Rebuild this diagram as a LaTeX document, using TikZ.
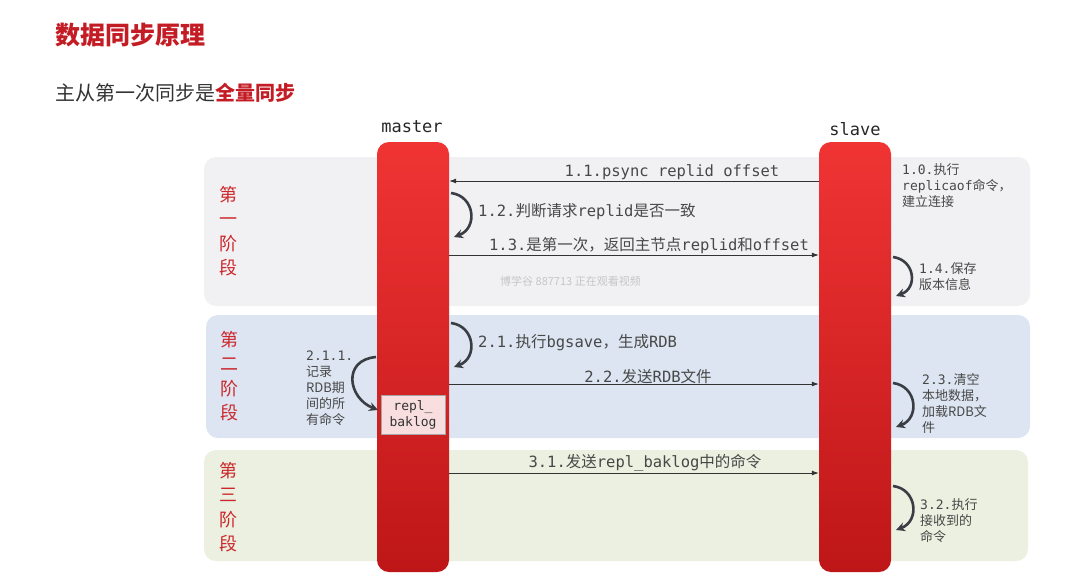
\documentclass[tikz,border=0pt]{standalone}
\usepackage{fontspec}
\setmainfont{Noto Sans CJK SC}
\setmonofont{DejaVu Sans Mono}
\usepackage{xcolor}
\usepackage{tikz}
\usetikzlibrary{arrows.meta}

\definecolor{titlered}{RGB}{196,28,36}
\definecolor{phasered}{RGB}{204,40,44}
\definecolor{bartop}{RGB}{240,52,52}
\definecolor{barbot}{RGB}{190,22,24}
\definecolor{phaseone}{RGB}{241,241,243}
\definecolor{phasetwo}{RGB}{220,229,241}
\definecolor{phasethree}{RGB}{235,240,224}
\definecolor{labelgray}{RGB}{72,72,72}
\definecolor{loopgray}{RGB}{58,62,68}
\definecolor{bakpink}{RGB}{248,222,222}

\newcommand{\mn}[1]{{\ttfamily #1}}

\begin{document}
\begin{tikzpicture}[x=1pt,y=-1pt,
  bar/.style={rounded corners=12pt,top color=bartop,bottom color=barbot,
    minimum width=72pt,minimum height=430pt,inner sep=0pt},
  msg/.style={-{Latex[length=7pt,width=5pt]},line width=0.8pt,draw=black!80},
  selfloop/.style={-{Stealth[length=9pt,width=9pt]},line width=2.6pt,draw=loopgray},
  lbl/.style={text=labelgray,inner sep=0pt,font=\fontsize{15.5}{18}\selectfont},
  note/.style={text=labelgray,inner sep=0pt,align=left,font=\fontsize{13}{16}\selectfont},
  phase/.style={text=phasered,inner sep=0pt,align=center,font=\fontsize{18}{24.5}\selectfont}]
\useasboundingbox (0,0) rectangle (1083,576);

% titles
\node[anchor=west,inner sep=0pt,text=titlered,font=\fontsize{25}{30}\selectfont\bfseries] (title) at (55,35) {数据同步原理};
\node[anchor=west,inner sep=0pt,text=black!80,font=\fontsize{20}{24}\selectfont] (subtitle) at (55,93) {主从第一次同步是\textcolor{titlered}{\bfseries 全量同步}};

% phases
\fill[phaseone,rounded corners=12pt] (204,157) rectangle (1030,306);
\fill[phasetwo,rounded corners=12pt] (206,315) rectangle (1030,438);
\fill[phasethree,rounded corners=12pt] (204,450) rectangle (1028,561);
\node[phase] (ph1) at (228,231) {第\\一\\阶\\段};
\node[phase] (ph2) at (229,376) {第\\二\\阶\\段};
\node[phase] (ph3) at (228,507) {第\\三\\阶\\段};

% master / slave
\node[text=black!85,font=\ttfamily\fontsize{17}{20}\selectfont] (mlabel) at (412,127) {master};
\node[text=black!85,font=\ttfamily\fontsize{17}{20}\selectfont] (slabel) at (855,129) {slave};
\node[bar] (master) at (413,357) {};
\node[bar] (slave) at (855,357) {};
\node[fill=bakpink,draw=gray!70,line width=0.6pt,minimum width=64pt,minimum height=39pt,inner sep=0pt,
  align=center,text=black!80,font=\ttfamily\fontsize{13}{16}\selectfont] (baklog) at (413,415) {repl\_\\baklog};

% phase 1
\draw[msg] (slave.west |- 0,181) -- (master.east |- 0,181);
\node[lbl] (l11) at (672,172) {\mn{1.1.psync replid offset}};
\coordinate (l12s) at (451,193);
\coordinate (l12e) at (454,237);
\draw[selfloop] (l12s) .. controls +(24,3) and +(24,-9) .. (l12e);
\node[lbl,anchor=west] (l12) at (478,212) {\mn{1.2.}判断请求\mn{replid}是否一致};
\draw[msg] (master.east |- 0,255) -- (slave.west |- 0,255);
\node[lbl] (l13) at (649,246) {\mn{1.3.}是第一次，返回主节点\mn{replid}和\mn{offset}};
\node[anchor=west,inner sep=0pt,text=gray!45,font=\fontsize{11}{13}\selectfont] (wm) at (500,281) {博学谷 887713 正在观看视频};
\node[note,anchor=west] (n10) at (902,186) {\mn{1.0.}执行\\\mn{replicaof}命令，\\建立连接};
\coordinate (l14s) at (893,257);
\coordinate (l14e) at (896,296);
\draw[selfloop] (l14s) .. controls +(22,3) and +(22,-8) .. (l14e);
\node[note,anchor=west] (n14) at (919,277) {\mn{1.4.}保存\\版本信息};

% phase 2
\coordinate (l21s) at (451,323);
\coordinate (l21e) at (454,367);
\draw[selfloop] (l21s) .. controls +(24,3) and +(24,-9) .. (l21e);
\node[lbl,anchor=west] (l21) at (478,343) {\mn{2.1.}执行\mn{bgsave}，生成\mn{RDB}};
\coordinate (l211s) at (376,357);
\coordinate (l211e) at (378,410);
\draw[selfloop] (l211s) .. controls +(-34,3) and +(-30,-12) .. (l211e);
\node[note,anchor=west] (n211) at (306,388) {\mn{2.1.1.}\\记录\\RDB期\\间的所\\有命令};
\draw[msg] (master.east |- 0,384) -- (slave.west |- 0,384);
\node[lbl] (l22) at (648,377) {\mn{2.2.}发送\mn{RDB}文件};
\coordinate (l23s) at (893,383);
\coordinate (l23e) at (896,427);
\draw[selfloop] (l23s) .. controls +(24,3) and +(24,-9) .. (l23e);
\node[note,anchor=west] (n23) at (922,404) {\mn{2.3.}清空\\本地数据，\\加载RDB文\\件};

% phase 3
\draw[msg] (master.east |- 0,473) -- (slave.west |- 0,473);
\node[lbl] (l31) at (645,463) {\mn{3.1.}发送\mn{repl\_baklog}中的命令};
\coordinate (l32s) at (893,486);
\coordinate (l32e) at (896,530);
\draw[selfloop] (l32s) .. controls +(24,3) and +(24,-9) .. (l32e);
\node[note,anchor=west] (n32) at (920,521) {\mn{3.2.}执行\\接收到的\\命令};
\end{tikzpicture}
\end{document}
